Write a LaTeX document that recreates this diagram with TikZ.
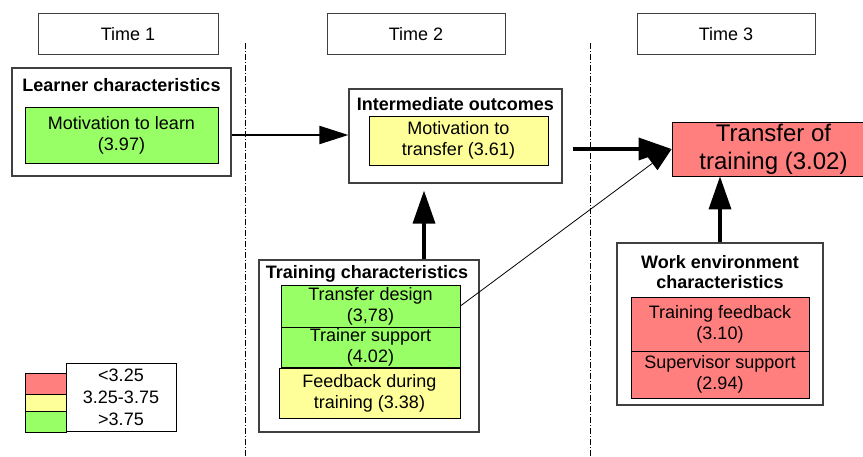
\documentclass[tikz,border=0pt]{standalone}
\usepackage{fontspec}
\setmainfont{Liberation Sans}
\usetikzlibrary{arrows.meta}
\definecolor{lowred}{HTML}{FF7F7F}
\definecolor{midyellow}{HTML}{FFFF99}
\definecolor{highgreen}{HTML}{99FF66}
\definecolor{framegray}{HTML}{404040}
\tikzset{
  txt/.style={font=\fontsize{18}{21}\selectfont, align=center, inner sep=0pt},
  ttl/.style={font=\fontsize{18}{20}\selectfont\bfseries, align=center, inner sep=0pt},
  timebox/.style={draw=framegray, line width=1pt, fill=white, minimum width=180pt, minimum height=41pt, txt},
  group/.style={draw=framegray, line width=1.2pt, fill=white, inner sep=0pt},
  item/.style={draw=black, line width=0.8pt, inner sep=0pt, txt},
  phase/.style={line width=0.7pt, dash pattern=on 6pt off 2pt on 1pt off 2pt},
  link/.style={line width=2pt, -{Triangle[length=29pt,width=18pt]}},
  strong/.style={line width=3.5pt, -{Triangle[length=33pt,width=22pt]}},
  weak/.style={line width=0.8pt, -{Triangle[length=24pt,width=17pt]}}
}
\begin{document}
\begin{tikzpicture}[x=1pt, y=-1pt]
\useasboundingbox (0,0) rectangle (863,457);
\clip (0,0) rectangle (863,457);

% phase separators
\coordinate (s1top) at (245,43);
\coordinate (s1bot) at (245,457);
\coordinate (s2top) at (590,43);
\coordinate (s2bot) at (590,457);
\draw[phase] (s1top) -- (s1bot);
\draw[phase] (s2top) -- (s2bot);

% time headers
\node[timebox] (t1) at (128,34) {Time 1};
\node[timebox, minimum width=178pt] (t2) at (416,34) {Time 2};
\node[timebox, minimum width=178pt] (t3) at (726,34) {Time 3};

% learner characteristics
\node[group, minimum width=219pt, minimum height=108pt] (lc) at (121.5,122) {};
\node[ttl] (lct) at (121.5,85) {Learner characteristics};
\node[item, fill=highgreen, minimum width=193pt, minimum height=56pt] (mtl) at (121.5,135) {Motivation to learn\\(3.97)};

% intermediate outcomes
\node[group, minimum width=213pt, minimum height=94pt] (io) at (455.5,136) {};
\node[ttl] (iot) at (455.5,104) {Intermediate outcomes};
\node[item, fill=midyellow, minimum width=179pt, minimum height=49pt] (mtt) at (458.5,140.5) {Motivation to\\transfer (3.61)};

% training characteristics
\node[group, minimum width=220pt, minimum height=172pt] (tc) at (369,346) {};
\node[ttl] (tct) at (367,274) {Training characteristics};
\node[item, fill=highgreen, minimum width=179pt, minimum height=42pt] (td) at (370.5,306) {Transfer design\\(3,78)};
\node[item, fill=highgreen, minimum width=179pt, minimum height=40pt] (ts) at (370.5,347) {Trainer support\\(4.02)};
\node[item, fill=midyellow, minimum width=181pt, minimum height=50pt] (fb) at (369.5,393) {Feedback during\\training (3.38)};

% transfer of training
\node[item, fill=lowred, minimum width=203pt, minimum height=54pt, font=\fontsize{24}{28}\selectfont] (tt) at (773.5,149) {Transfer of\\training (3.02)};

% work environment characteristics
\node[group, minimum width=206pt, minimum height=162pt] (wec) at (720,324) {};
\node[ttl] (wect) at (720,272) {Work environment\\characteristics};
\node[item, fill=lowred, minimum width=178pt, minimum height=54pt] (tf) at (720,324) {Training feedback\\(3.10)};
\node[item, fill=lowred, minimum width=178pt, minimum height=47pt] (ss) at (720,374.5) {Supervisor support\\(2.94)};

% legend
\node[draw=black, line width=0.8pt, fill=lowred, minimum width=41pt, minimum height=21pt, inner sep=0pt] (lr) at (45.5,383.5) {};
\node[draw=black, line width=0.8pt, fill=midyellow, minimum width=41pt, minimum height=17pt, inner sep=0pt] (ly) at (45.5,402.5) {};
\node[draw=black, line width=0.8pt, fill=highgreen, minimum width=41pt, minimum height=21pt, inner sep=0pt] (lg) at (45.5,421.5) {};
\node[draw=black, line width=0.8pt, fill=white, minimum width=110pt, minimum height=68pt, txt, font=\fontsize{18}{22}\selectfont] (lt) at (121,397) {<3.25\\3.25-3.75\\>3.75};

% connectors
\coordinate (upx) at (424,0);
\draw[link] (mtl.east -| lc.east) -- (mtl.east -| io.west);
\draw[strong, shorten <=10pt] (io.east |- tt.west) -- (tt.west);
\draw[strong, shorten >=7pt] (tc.north -| upx) -- (io.south -| upx);
\draw[weak] (td.east) -- (tt.west);
\draw[strong] (wec.north) -- (wec.north |- tt.south);
\end{tikzpicture}
\end{document}
